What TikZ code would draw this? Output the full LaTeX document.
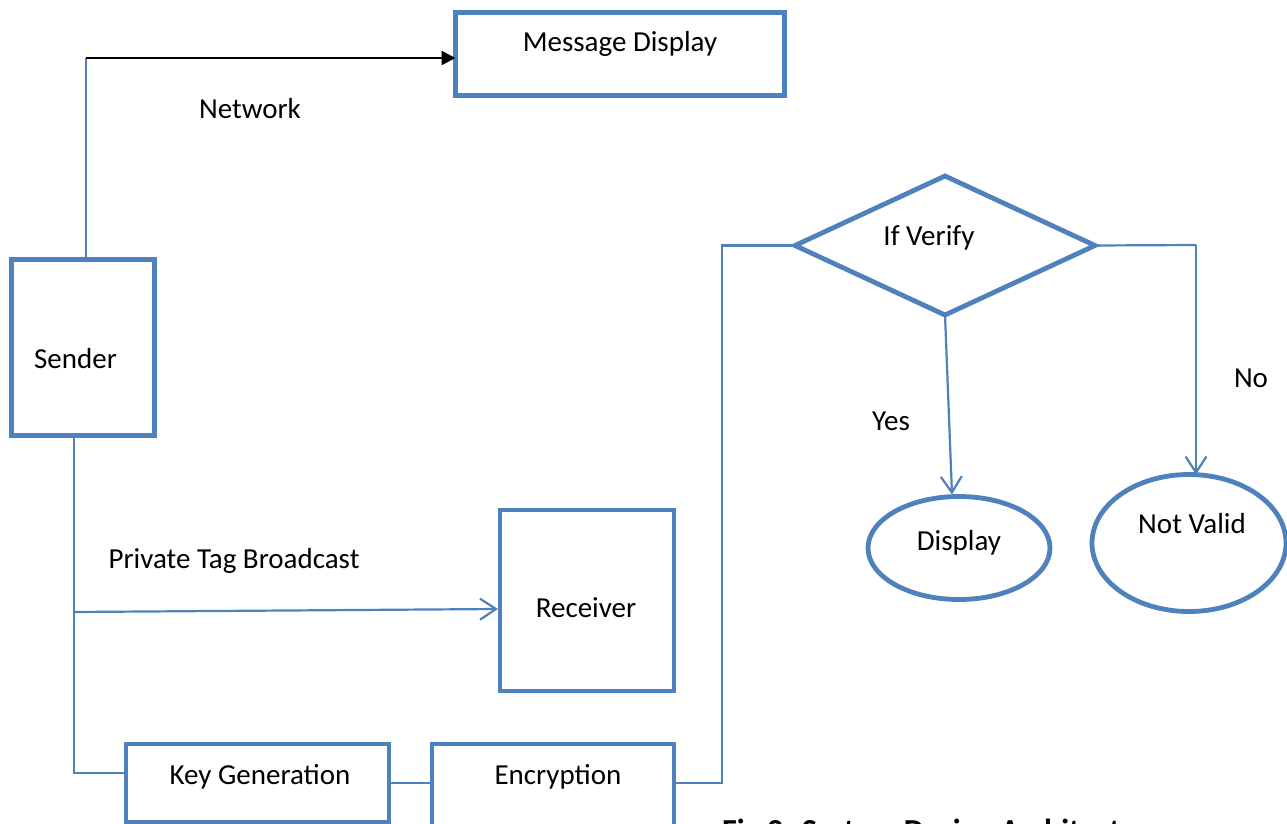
\documentclass[tikz,border=0pt]{standalone}
\usepackage{fontspec}
\setmainfont{Carlito}
\usetikzlibrary{arrows.meta,shapes.geometric}
\definecolor{accent}{HTML}{4F81BD}

\begin{document}
\begin{tikzpicture}[x=1pt,y=-1pt,
  box/.style={draw=accent,line width=4.8pt,fill=white,rectangle,inner sep=0pt,outer sep=0pt},
  oval/.style={draw=accent,line width=4.8pt,fill=white,ellipse,inner sep=0pt,outer sep=0pt},
  decision/.style={draw=accent,line width=4.8pt,fill=white,diamond,inner sep=0pt,outer sep=0pt},
  wire/.style={draw=accent,line width=2.2pt},
  flow/.style={wire,-{Straight Barb[length=16pt,width=21pt,line width=2.2pt]}},
  push/.style={draw=black,line width=2.6pt,-{Triangle[length=14pt,width=14pt]}},
  txt/.style={font=\fontsize{29}{35}\selectfont,inner sep=0pt,anchor=base},
  captxt/.style={font=\bfseries\fontsize{32}{38}\selectfont,inner sep=0pt,anchor=base west}
]
\useasboundingbox (0,0) rectangle (1287,824);
\clip (0,0) rectangle (1287,824);
\fill[white] (0,0) rectangle (1287,824);

% blocks
\node[box,minimum width=329pt,minimum height=83pt] (msg) at (620,54) {};
\node[box,minimum width=143pt,minimum height=176pt] (sender) at (83,347.5) {};
\node[box,minimum width=174pt,minimum height=181pt] (receiver) at (587,600.5) {};
\node[box,minimum width=263pt,minimum height=78pt] (keygen) at (257.5,783) {};
\node[box,minimum width=242pt,minimum height=130pt] (encrypt) at (553,809) {};
\node[decision,minimum width=300pt,minimum height=139pt] (verify) at (945,245.5) {};
\node[oval,minimum width=182pt,minimum height=103pt] (display) at (959,548) {};
\node[oval,minimum width=194pt,minimum height=137pt] (notvalid) at (1189,543) {};

% routing points
\coordinate (net) at (86,58);
\coordinate (down) at (74,773);
\coordinate (tap) at (74,612);
\coordinate (tip) at (498,609);
\coordinate (rise) at (722,783);
\coordinate (nobend) at (1196,245);

% connectors
\draw[wire] (sender.north -| net) -- (net);
\draw[push] (net) -- (msg.west |- net);
\draw[wire] (sender.south -| down) -- (down) -- (down -| keygen.west);
\draw[flow] (tap) -- (tip);
\draw[wire] (keygen.east) -- (keygen.east -| encrypt.west);
\draw[wire] (keygen.east -| encrypt.east) -- (rise) |- (verify.west);
\draw[wire] (verify.east) -- (nobend);
\draw[flow] (nobend) -- (nobend |- notvalid.north);
\draw[flow] (verify.south) -- ([xshift=-7pt,yshift=2pt]display.north);

% texts
\node[txt] (tmsg) at (620,52) {Message Display};
\node[txt] (tsender) at (75.5,368) {Sender};
\node[txt] (tnet) at (250,119) {Network};
\node[txt] (tptb) at (234,568) {Private Tag Broadcast};
\node[txt] (trecv) at (586,617) {Receiver};
\node[txt] (tkey) at (260,784) {Key Generation};
\node[txt] (tenc) at (558,784) {Encryption};
\node[txt] (tver) at (929,245) {If Verify};
\node[txt] (tyes) at (891,430) {Yes};
\node[txt] (tno) at (1251,387) {No};
\node[txt] (tdisp) at (959,550) {Display};
\node[txt] (tnv) at (1192,533) {Not Valid};

% caption
\node[captxt] (cap) at (722,841) {Fig 2: System Design Architecture};
\end{tikzpicture}
\end{document}
